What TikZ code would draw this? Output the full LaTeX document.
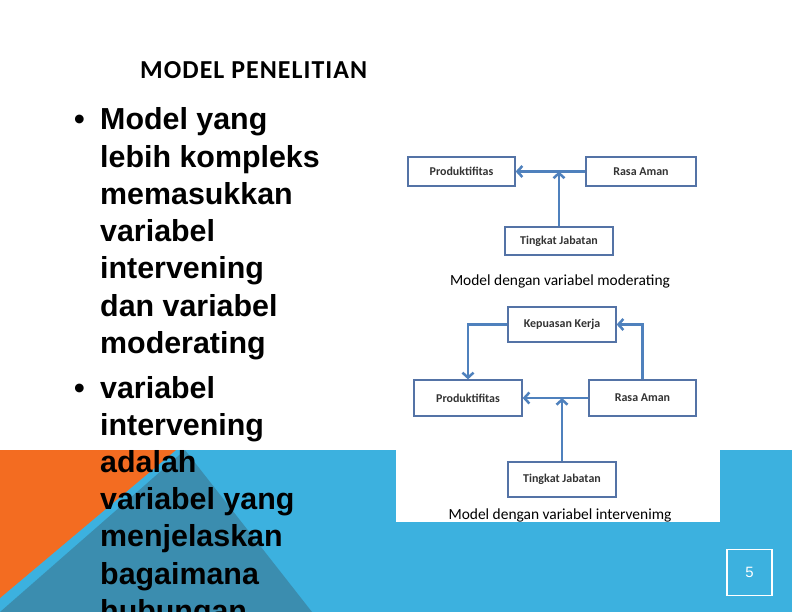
\documentclass[tikz,border=0pt]{standalone}
\usepackage{fontspec}
\setmainfont{Liberation Sans}
\newfontfamily\calib{Carlito}
\newfontfamily\calibspaced[LetterSpace=4]{Carlito}
\usetikzlibrary{arrows.meta}
\definecolor{bgorange}{HTML}{F36C21}
\definecolor{bglight}{HTML}{3CB1DF}
\definecolor{bgdark}{HTML}{3B8DAF}
\definecolor{boxedge}{HTML}{5473A6}
\definecolor{arrowblue}{HTML}{4F81BD}
\definecolor{boxtext}{HTML}{333333}
\tikzset{
  varbox/.style={draw=boxedge, line width=1.3bp, fill=white, text=boxtext,
    font=\calib\bfseries\fontsize{12}{14}\selectfont, inner sep=0pt},
  flow/.style={draw=arrowblue, line width=2.5bp, -{Straight Barb[length=5bp,width=11bp]}},
  bodyline/.style={anchor=base west, inner sep=0pt, font=\bfseries\fontsize{30.5}{37}\selectfont},
  caption/.style={font=\calib\fontsize{15.5}{17}\selectfont, inner sep=0pt, anchor=base}
}
\begin{document}
\begin{tikzpicture}[x=1bp,y=-1bp]
\useasboundingbox (0,0) rectangle (792,612);
\clip (0,0) rectangle (792,612);
% background
\fill[white] (0,0) rectangle (792,612);
\fill[bglight] (0,450) rectangle (792,612);
\fill[bgdark] (185,450) -- (312,612) -- (0,612) -- cycle;
\fill[bgorange] (0,450) -- (176,450) -- (0,598) -- cycle;
% figure panel
\fill[white] (396,300) rectangle (720,522);
% page number
\node[draw=white, line width=1.5pt, minimum width=45bp, minimum height=46bp, text=white,
  font=\fontsize{15}{17}\selectfont] (pg) at (749.5,572.5) {5};
% title
\node[anchor=base west, inner sep=0pt, font=\calibspaced\bfseries\fontsize{26}{30}\selectfont] (title) at (140,79) {MODEL PENELITIAN};
% bullets
\node[anchor=base west, inner sep=0pt, font=\bfseries\fontsize{30.5}{37}\selectfont] (b1) at (74,130) {•};
\node[anchor=base west, inner sep=0pt, font=\bfseries\fontsize{30.5}{37}\selectfont] (b2) at (74,398) {•};
\foreach \t [count=\i from 0] in {Model yang, lebih kompleks, memasukkan, variabel, intervening, dan variabel, moderating}
  \node[bodyline] (la\i) at (100,130+37.2*\i) {\t};
\foreach \t [count=\i from 0] in {variabel, intervening, adalah, variabel yang, menjelaskan, bagaimana, hubungan}
  \node[bodyline] (lb\i) at (100,398+37.2*\i) {\t};
% top diagram (moderating)
\node[varbox, minimum width=107bp, minimum height=29bp] (p1) at (461.5,171.5) {Produktifitas};
\node[varbox, minimum width=110bp, minimum height=29bp] (r1) at (641,171.5) {Rasa Aman};
\node[varbox, minimum width=108bp, minimum height=28bp] (t1) at (559,241) {Tingkat Jabatan};
\coordinate (j1) at (559,171.5);
\draw[flow] (r1.west) -- (p1.east);
\draw[flow] (t1.north) -- (j1);
\node[caption] (c1) at (560,285) {Model dengan variabel moderating};
% bottom diagram (intervening)
\node[varbox, minimum width=108bp, minimum height=35bp] (k2) at (562,324.5) {Kepuasan Kerja};
\node[varbox, minimum width=108bp, minimum height=36bp] (p2) at (468,398) {Produktifitas};
\node[varbox, minimum width=107bp, minimum height=36bp] (r2) at (642.5,398) {Rasa Aman};
\node[varbox, minimum width=108bp, minimum height=35bp] (t2) at (562,479.5) {Tingkat Jabatan};
\coordinate (j2) at (562,398);
\draw[flow] (k2.west) -| (p2.north);
\draw[flow] (r2.north) |- (k2.east);
\draw[flow] (r2.west) -- (p2.east);
\draw[flow] (t2.north) -- (j2);
\node[caption] (c2) at (560,519) {Model dengan variabel intervenimg};
\end{tikzpicture}
\end{document}
